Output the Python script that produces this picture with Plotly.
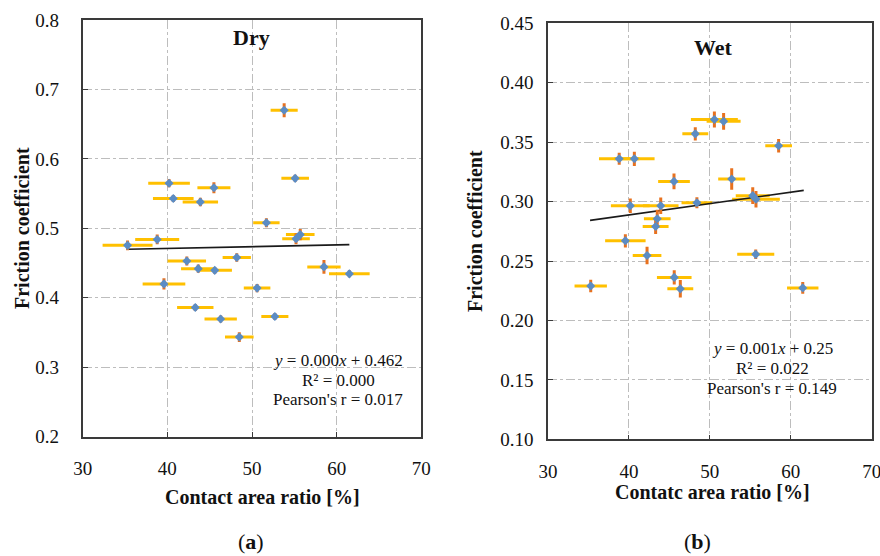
import plotly.graph_objects as go

# ---------------- data ----------------
dry_x = [53.8, 55.1, 40.2, 45.5, 40.7, 43.9, 51.7, 55.2, 55.7, 38.8, 35.3, 42.3, 48.2,
         43.65, 45.6, 58.5, 61.5, 39.6, 50.6, 43.3, 52.7, 46.3, 48.5]
dry_y = [0.670, 0.572, 0.565, 0.5585, 0.543, 0.538, 0.508, 0.485, 0.491, 0.484, 0.4755,
         0.453, 0.458, 0.442, 0.4395, 0.4445, 0.4345, 0.420, 0.414, 0.386, 0.373, 0.3695, 0.3435]
dry_xerr = [1.6, 1.63, 2.46, 1.95, 2.4, 2.09, 1.56, 1.63, 1.69, 2.6, 2.95, 2.27, 1.67,
            2.03, 2.03, 1.97, 2.4, 2.52, 1.57, 2.15, 1.6, 1.91, 1.69]
dry_yerr = [0.010, 0.005, 0.006, 0.008, 0.005, 0.006, 0.0065, 0.008, 0.008, 0.007, 0.007,
            0.0065, 0.006, 0.006, 0.005, 0.010, 0.005, 0.008, 0.006, 0.005, 0.005, 0.005, 0.007]
dry_trend_x = [35.3, 61.5]
dry_trend_y = [0.4698, 0.4765]

wet_x = [50.56, 51.7, 48.2, 58.5, 38.8, 40.67, 45.57, 52.7, 55.3, 55.7, 40.17, 43.93,
         48.4, 43.5, 43.3, 39.56, 42.24, 55.67, 45.6, 46.35, 35.28, 61.48]
wet_y = [0.369, 0.3675, 0.357, 0.347, 0.336, 0.336, 0.317, 0.319, 0.305, 0.302, 0.2965,
         0.2965, 0.299, 0.2855, 0.279, 0.267, 0.2547, 0.2556, 0.2362, 0.2266, 0.229, 0.2274]
wet_xerr = [2.9, 2.1, 1.6, 1.65, 2.5, 2.5, 1.96, 1.67, 2.1, 2.95, 2.4, 2.2, 1.9, 1.65,
            1.6, 2.5, 1.77, 2.29, 2.14, 1.6, 2.0, 1.94]
wet_yerr = [0.0067, 0.007, 0.0056, 0.0056, 0.005, 0.006, 0.0067, 0.009, 0.007, 0.007,
            0.006, 0.007, 0.0046, 0.0077, 0.0063, 0.0056, 0.0074, 0.004, 0.006, 0.0074,
            0.0053, 0.005]
wet_trend_x = [35.2, 61.6]
wet_trend_y = [0.2842, 0.3094]

x_ticks = [30, 40, 50, 60, 70]
dry_yticks = [0.2, 0.3, 0.4, 0.5, 0.6, 0.7, 0.8]
wet_yticks = [0.10, 0.15, 0.20, 0.25, 0.30, 0.35, 0.40, 0.45]

# ---------------- styles ----------------
SERIF = "'Liberation Serif', 'Times New Roman', serif"
XCOL = "#FFC000"
YCOL = "#E8711E"
MCOL = "#5B8CC4"
GRID = "#BDBDBD"
FRAME = "#3A3A3A"

fig = go.Figure()


def add_panel(xs, ys, xe, ye, tx, ty, xa, ya):
    fig.add_trace(go.Scatter(
        x=xs, y=ys, mode="markers", xaxis=xa, yaxis=ya,
        marker=dict(size=1, color="rgba(0,0,0,0)"),
        error_x=dict(type="data", array=xe, color=XCOL, thickness=3, width=0),
        showlegend=False, hoverinfo="skip"))
    fig.add_trace(go.Scatter(
        x=tx, y=ty, mode="lines", xaxis=xa, yaxis=ya,
        line=dict(color="#1a1a1a", width=1.6), showlegend=False))
    fig.add_trace(go.Scatter(
        x=xs, y=ys, mode="markers", xaxis=xa, yaxis=ya,
        marker=dict(symbol="diamond", size=7, color=MCOL),
        error_y=dict(type="data", array=ye, color=YCOL, thickness=3, width=0),
        showlegend=False))


add_panel(dry_x, dry_y, dry_xerr, dry_yerr, dry_trend_x, dry_trend_y, "x", "y")
add_panel(wet_x, wet_y, wet_xerr, wet_yerr, wet_trend_x, wet_trend_y, "x2", "y2")

W, H = 880, 556
L1, R1, T1, B1 = 82.7, 421.3, 20.0, 436.7
L2, R2, T2, B2 = 548.0, 871.7, 23.3, 439.3

common_axis = dict(
    showline=True, linecolor=FRAME, linewidth=1.6, mirror=True,
    ticks="inside", ticklen=5, tickcolor=FRAME, tickwidth=1.2,
    showgrid=True, gridcolor=GRID, griddash="dashdot", gridwidth=1,
    zeroline=False, automargin=False, ticklabeloverflow="allow",
    tickfont=dict(family=SERIF, size=19, color="#111"),
)

fig.update_layout(
    width=W, height=H, margin=dict(l=0, r=0, t=0, b=0, autoexpand=False),
    paper_bgcolor="white", plot_bgcolor="white",
    xaxis=dict(common_axis, domain=[L1 / W, R1 / W], range=[30, 70],
               tickvals=x_ticks, ticklabelstandoff=14, anchor="y"),
    yaxis=dict(common_axis, domain=[1 - B1 / H, 1 - T1 / H], range=[0.2, 0.8],
               tickvals=dry_yticks, tickformat=".1f", ticklabelstandoff=18, anchor="x"),
    xaxis2=dict(common_axis, domain=[L2 / W, R2 / W], range=[30, 70],
                tickvals=x_ticks, ticklabelstandoff=14, anchor="y2"),
    yaxis2=dict(common_axis, domain=[1 - B2 / H, 1 - T2 / H], range=[0.10, 0.45],
                tickvals=wet_yticks, tickformat=".2f", ticklabelstandoff=9, anchor="x2"),
)


def ann(text, x, y, size, angle=0, bold=False):
    fig.add_annotation(
        text=text, x=x / W, y=1 - y / H, xref="paper", yref="paper",
        xanchor="center", yanchor="middle", showarrow=False, textangle=angle,
        font=dict(family=SERIF, size=size, color="#111",
                  weight="bold" if bold else "normal"))


ann("Dry", 251, 37, 22, bold=True)
ann("Wet", 713, 47, 22, bold=True)
ann("Friction coefficient", 22, 228, 20, angle=-90, bold=True)
ann("Friction coefficient", 475, 231, 20, angle=-90, bold=True)
ann("Contact area ratio [%]", 262, 497, 20, bold=True)
ann("Contatc area ratio [%]", 712, 492, 20, bold=True)

ann("<i>y</i> = 0.000<i>x</i> + 0.462", 338, 360, 17)
ann("R² = 0.000", 338, 380, 17)
ann("Pearson's r = 0.017", 338, 399, 17)
ann("<i>y</i> = 0.001<i>x</i> + 0.25", 772, 348, 17)
ann("R² = 0.022", 772, 368, 17)
ann("Pearson's r = 0.149", 772, 388, 17)

ann("(<b>a</b>)", 251, 541, 22)
ann("(<b>b</b>)", 697, 541, 22)

fig.write_html(
    "out.html",
    config={"displayModeBar": False},
    post_script="document.body.style.margin='0px';document.body.style.overflow='hidden';",
)
